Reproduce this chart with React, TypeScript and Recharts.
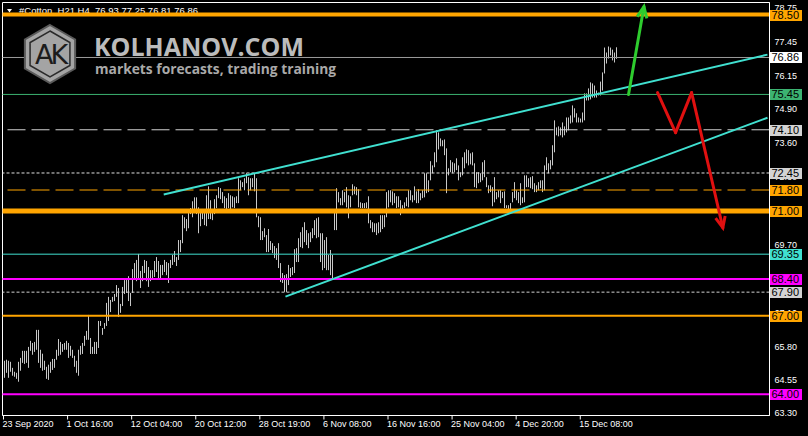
import { ComposedChart, Bar, XAxis, YAxis, ReferenceLine, ReferenceArea } from "recharts";

// H4 bars, high / low (oldest first)
const highs = [
  65.28, 65.32, 65.28, 65.24, 65.01, 64.86, 64.82, 65.24, 65.39, 65.66,
  65.66, 65.66, 65.81, 66.04, 65.96, 66.0, 66.46, 66.46, 65.7, 65.55,
  65.28, 65.05, 65.13, 65.24, 65.35, 65.35, 65.7, 66.11, 66.0, 65.92,
  65.96, 66.04, 65.96, 65.85, 65.7, 65.47, 65.28, 65.7, 65.85, 65.96,
  66.23, 66.42, 67.03, 66.15, 65.81, 66.0, 66.0, 66.8, 66.8, 66.53,
  66.72, 67.49, 67.72, 67.6, 67.72, 67.83, 68.17, 68.06, 67.45, 68.1,
  68.36, 68.4, 68.51, 67.87, 68.78, 69.01, 69.13, 69.36, 68.71, 68.9,
  69.13, 69.09, 68.86, 68.74, 68.74, 69.09, 69.24, 69.09, 68.94,
  68.94, 69.13, 69.05, 69.01, 69.13, 69.32, 69.47, 69.24, 69.89, 69.89,
  70.84, 70.76, 70.69, 70.92, 71.11, 71.37, 71.52, 71.52, 71.14, 71.03,
  71.03, 70.92, 71.6, 71.94, 71.41, 71.07, 71.45, 71.6, 71.91, 71.87,
  71.72, 71.56, 71.49, 71.68, 71.6, 71.56, 71.52, 71.56, 72.25, 72.17,
  72.1, 72.25, 72.44, 72.29, 72.25, 72.25, 72.44, 72.25, 70.8, 70.76,
  70.23, 70.34, 70.08, 70.31, 69.85, 69.77, 69.66, 69.58, 69.77, 69.01,
  68.63, 68.55, 68.59, 68.94, 68.82, 68.86, 69.54, 69.58, 69.96, 70.19,
  70.38, 70.57, 70.27, 70.15, 70.19, 70.34, 70.65,
  70.72, 70.76, 70.15, 70.15, 69.89, 70.0, 69.32, 69.51, 69.32, 70.95,
  71.87, 71.72, 71.49, 71.79, 71.72, 71.91, 71.6, 71.56, 72.02, 71.94,
  71.91, 71.83, 71.33, 71.3, 71.3, 71.33, 71.56, 70.65, 70.57, 70.53,
  70.53, 70.57, 70.84, 70.84, 70.84, 71.72, 71.79, 71.79, 71.75, 71.68,
  71.56, 71.56, 71.41, 71.22, 71.33, 71.52, 71.79, 71.79, 71.6, 71.94,
  71.75, 71.83, 71.68, 71.79, 72.44, 72.44, 72.17, 72.9, 72.74, 73.24,
  74.08, 74.0, 73.77, 73.7, 73.73, 73.39, 72.63, 72.94, 72.86, 72.82,
  73.01, 72.74, 72.48, 73.05, 73.24, 73.35, 73.32,
  73.2, 73.24, 72.82, 72.48, 72.48, 72.44, 72.86, 72.94, 72.29, 71.98,
  71.98, 71.91, 72.29, 71.72, 71.79, 71.79, 71.72, 71.75, 71.22, 71.22,
  71.3, 71.72, 72.1, 71.79, 71.72, 72.06, 71.52, 72.36, 72.36, 72.25,
  72.29, 72.33, 72.06, 71.98, 72.1, 72.17, 72.17, 72.74, 73.05, 72.82,
  72.94, 73.51, 74.46, 74.19, 74.23, 74.19, 74.38, 74.23, 74.57, 74.57,
  74.65, 75.03, 74.92, 74.73, 74.57, 74.53, 74.76, 75.49, 75.49, 75.68,
  75.91, 75.87, 75.79, 75.6, 75.52, 75.94, 76.29, 77.24, 77.05, 77.28,
  77.24, 77.16, 77.05, 77.25,
];

const lows = [
  64.63, 64.82, 64.63, 64.86, 64.71, 64.67, 64.59, 64.48, 64.9, 65.2,
  65.16, 65.2, 65.01, 65.66, 65.51, 65.62, 65.7, 65.2, 65.01, 64.9,
  64.93, 64.59, 64.55, 64.82, 64.93, 65.01, 65.32, 65.47, 65.51, 65.62,
  65.7, 65.7, 65.39, 65.47, 65.39, 65.05, 64.82, 64.71, 65.51, 65.54,
  65.85, 66.08, 66.08, 65.54, 65.54, 65.54, 65.54, 65.77, 66.61, 66.27,
  66.5, 66.61, 66.8, 67.14, 67.53, 67.56, 67.72, 66.95, 67.11, 67.37,
  67.83, 67.87, 67.56, 67.37, 67.87, 68.4, 68.32, 68.4, 68.06, 68.32,
  68.63, 68.32, 68.1, 68.32, 68.4, 68.48, 68.67, 68.44, 68.44,
  68.55, 68.67, 68.55, 68.25, 68.82, 68.94, 69.05, 68.9, 69.13, 69.43,
  69.77, 70.34, 70.23, 70.34, 70.88, 70.76, 70.92, 70.88, 70.15, 70.42,
  70.69, 70.46, 70.42, 70.69, 70.69, 70.65, 70.88, 71.11, 71.49, 71.45,
  71.3, 71.11, 71.03, 71.11, 71.03, 71.14, 71.11, 71.3, 71.3, 71.79,
  71.91, 71.79, 72.06, 71.6, 71.79, 71.91, 71.75, 70.76, 70.38, 69.89,
  69.89, 70.0, 69.43, 69.43, 69.51, 69.39, 69.2, 69.13, 68.82, 68.29,
  68.25, 67.91, 67.91, 68.17, 68.48, 68.55, 68.63, 69.05, 69.05, 69.62,
  69.58, 69.81, 69.7, 69.58, 69.81, 69.96, 70.08,
  69.96, 70.0, 69.05, 68.74, 68.82, 68.74, 68.74, 68.55, 68.44, 70.27,
  70.27, 71.33, 71.22, 71.22, 71.33, 71.14, 70.72, 71.14, 71.6, 71.64,
  71.6, 71.14, 71.11, 71.11, 71.11, 71.11, 70.53, 70.34, 70.19, 70.19,
  70.08, 70.15, 70.19, 70.31, 70.38, 70.76, 71.14, 71.33, 71.22, 71.3,
  71.11, 71.14, 70.84, 71.07, 71.11, 71.18, 71.14, 71.41, 71.33, 71.41,
  71.3, 71.3, 71.41, 71.49, 71.52, 71.68, 71.72, 72.17, 72.44, 72.67,
  72.86, 73.35, 73.47, 73.47, 73.13, 71.68, 72.36, 72.48, 72.44, 72.48,
  72.56, 72.17, 72.29, 72.36, 72.63, 72.82, 72.74,
  72.78, 72.74, 71.91, 71.87, 72.06, 72.1, 72.17, 72.29, 71.91, 71.68,
  71.72, 71.18, 71.33, 71.45, 71.52, 71.3, 71.49, 71.11, 71.11, 70.95,
  71.03, 71.33, 71.49, 71.41, 71.3, 71.22, 71.3, 71.33, 71.91, 71.91,
  71.87, 71.83, 71.72, 71.72, 71.79, 71.87, 71.72, 71.79, 72.56, 72.44,
  72.59, 72.74, 73.24, 73.89, 73.85, 73.89, 73.81, 73.89, 74.0, 74.08,
  74.34, 74.38, 74.57, 74.38, 74.38, 74.38, 74.38, 74.46, 75.22, 75.22,
  75.26, 75.33, 75.33, 75.33, 75.41, 75.41, 75.6, 76.25, 76.63, 76.82,
  76.94, 76.75, 76.67, 76.81,
];

const xTickIndex = [0, 32, 64, 96, 128, 160, 192, 224, 256, 288];
const xTickLabels = [
  "23 Sep 2020", "1 Oct 16:00", "12 Oct 04:00", "20 Oct 12:00", "28 Oct 19:00",
  "6 Nov 08:00", "16 Nov 16:00", "25 Nov 04:00", "4 Dec 20:00", "15 Dec 08:00",
];
const yTicks = [78.75, 77.45, 76.15, 74.9, 73.6, 72.3, 71.0, 69.7, 68.4, 67.1, 65.8, 64.55, 63.3];

// horizontal levels and their look
const levelPrices = [78.5, 76.86, 75.45, 74.1, 72.45, 71.8, 71.0, 69.35, 68.4, 67.9, 67.0, 64.0];
const levelStyles = [
  { color: "#FFA500", width: 4, dash: undefined, tag: "#FFA500" },
  { color: "#9a9a9a", width: 1, dash: undefined, tag: "#FFFFFF" },
  { color: "#3CB371", width: 1, dash: undefined, tag: "#3CB371" },
  { color: "#d3d3d3", width: 1, dash: "18 6", tag: "#d3d3d3" },
  { color: "#e0e0e0", width: 1, dash: "3 2", tag: "#d3d3d3" },
  { color: "#FFA500", width: 1, dash: "18 6", tag: "#FFA500" },
  { color: "#FFA500", width: 5, dash: undefined, tag: "#FFA500" },
  { color: "#40E0D0", width: 1, dash: undefined, tag: "#40E0D0" },
  { color: "#FF00FF", width: 2, dash: undefined, tag: "#FF00FF" },
  { color: "#d3d3d3", width: 1, dash: "3 2", tag: "#d3d3d3" },
  { color: "#FFA500", width: 2, dash: undefined, tag: "#FFA500" },
  { color: "#FF00FF", width: 2, dash: undefined, tag: "#FF00FF" },
];

// channel lines (bar index, price)
const upperChannel = [{ x: 80, y: 71.63 }, { x: 381.5, y: 76.97 }];
const lowerChannel = [{ x: 140.8, y: 67.73 }, { x: 381.5, y: 74.56 }];

// forecast arrows
const greenArrow = [{ x: 312.1, y: 75.45 }, { x: 319.8, y: 78.8 }];
const redArrow = [
  { x: 326.6, y: 75.52 },
  { x: 335.6, y: 73.99 },
  { x: 343.6, y: 75.52 },
  { x: 359.2, y: 70.36 },
];

const W = 808;
const H = 436;
const FONT = '"Liberation Sans", Arial, sans-serif';
const Y_DOMAIN: [number, number] = [63.19, 78.96];
const X_DOMAIN: [number, number] = [-0.5, 382.5];

const data = highs.map((h, i) => ({ i, range: [lows[i], h] }));

const BarShape = (p: any) => {
  if (p.y == null || p.height == null) return <g />;
  const cx = Math.floor(p.x + p.width / 2);
  const top = Math.min(p.y, p.y + p.height);
  const h = Math.max(Math.abs(p.height), 1);
  return <rect x={cx} y={top} width={1} height={h} fill="#c8c8c8" />;
};

const XTick = (p: any) => {
  const idx = xTickIndex.indexOf(p.payload.value);
  return (
    <text x={p.x - 1} y={p.y} dy="0.71em" textAnchor="start" fill="#fff" fontSize={9} fontFamily={FONT}>
      {xTickLabels[idx]}
    </text>
  );
};

// y tick text, drawn as a reference-line label so the price tags can sit on top
const tickText = (text: string) => (p: any) => {
  const vb = p.viewBox;
  return (
    <text x={vb.x + vb.width + 5} y={vb.y + 3.2} fontSize={9} fill="#fff" fontFamily={FONT}>
      {text}
    </text>
  );
};

const priceTag = (text: string, bg: string) => (p: any) => {
  const vb = p.viewBox;
  const right = vb.x + vb.width;
  const cy = Math.round(vb.y);
  return (
    <g>
      <rect x={right + 0.5} y={cy - 5} width={32} height={11} fill={bg} />
      <text x={right + 2} y={cy + 4} fontSize={11} fill="#000" fontFamily={FONT}>
        {text}
      </text>
    </g>
  );
};

const arrowShape = (color: string, head: boolean) => (p: any) => {
  const { x1, y1, x2, y2 } = p;
  const ang = Math.atan2(y2 - y1, x2 - x1);
  const L = 12;
  const a = 0.42;
  const hx1 = x2 - L * Math.cos(ang - a);
  const hy1 = y2 - L * Math.sin(ang - a);
  const hx2 = x2 - L * Math.cos(ang + a);
  const hy2 = y2 - L * Math.sin(ang + a);
  return (
    <g>
      <line x1={x1} y1={y1} x2={x2} y2={y2} stroke={color} strokeWidth={3} strokeLinecap="round" />
      {head && (
        <polyline
          points={`${hx1},${hy1} ${x2},${y2} ${hx2},${hy2}`}
          fill="none"
          stroke={color}
          strokeWidth={3}
          strokeLinejoin="miter"
        />
      )}
    </g>
  );
};

function Watermark() {
  const hex = (cx: number, cy: number, r: number) =>
    [0, 1, 2, 3, 4, 5]
      .map((k) => {
        const t = (Math.PI / 3) * k - Math.PI / 2;
        return `${cx + r * Math.cos(t)},${cy + r * Math.sin(t)}`;
      })
      .join(" ");
  return (
    <svg width={W} height={H} style={{ position: "absolute", left: 0, top: 0, pointerEvents: "none" }}>
      <polygon points={hex(50, 54, 29)} fill="#a4a4a4" stroke="#5a5a5a" strokeWidth={2} />
      <polygon points={hex(50, 54, 23)} fill="none" stroke="#2a2a2a" strokeWidth={1.5} />
      <text x={50} y={64} textAnchor="middle" fontSize={27} fill="#1c1c1c" fontFamily='"DejaVu Sans", sans-serif' letterSpacing={-3}>
        AK
      </text>
      <text x={94} y={56} fontSize={25} fontWeight={700} fill="#bcbcbc" fontFamily='"Open Sans", sans-serif'>
        KOLHANOV.COM
      </text>
      <text x={95} y={74} fontSize={13.8} fontWeight={700} fill="#a9a9a9" fontFamily='"Open Sans", sans-serif'>
        markets forecasts, trading training
      </text>
    </svg>
  );
}

function Title() {
  return (
    <svg width={W} height={20} style={{ position: "absolute", left: 0, top: 0 }}>
      <polygon points="7,9 12,9 9.5,12.5" fill="#fff" />
      <text x={19} y={14} fontSize={9.5} fill="#fff" fontFamily={FONT} style={{ whiteSpace: "pre" }}>
        #Cotton_H21,H4  76.93 77.25 76.81 76.86
      </text>
    </svg>
  );
}

export default function App() {
  return (
    <div style={{ position: "fixed", left: 0, top: 0, width: W, height: H, background: "#000", overflow: "hidden" }}>
      <Title />
      <div style={{ position: "absolute", left: 0, top: 0 }}>
        <ComposedChart width={W} height={H} data={data} margin={{ top: 2.5, left: 2.5, right: 0, bottom: 0 }}>
          <XAxis
            type="number"
            dataKey="i"
            domain={X_DOMAIN}
            ticks={xTickIndex}
            interval={0}
            allowDataOverflow
            height={20.5}
            axisLine={{ stroke: "#fff" }}
            tickLine={{ stroke: "#fff" }}
            tickSize={4}
            tickMargin={1}
            tick={<XTick />}
          />
          <YAxis
            orientation="right"
            type="number"
            domain={Y_DOMAIN}
            ticks={yTicks}
            interval={0}
            allowDataOverflow
            width={38.5}
            axisLine={{ stroke: "#fff" }}
            tickLine={{ stroke: "#fff" }}
            tickSize={4}
            tick={false}
          />
          <ReferenceArea
            x1={X_DOMAIN[0]}
            x2={X_DOMAIN[1]}
            y1={Y_DOMAIN[0]}
            y2={Y_DOMAIN[1]}
            fill="none"
            fillOpacity={0}
            stroke="#fff"
            strokeWidth={1}
          />
          <Bar dataKey="range" barSize={1} shape={BarShape} isAnimationActive={false} />
          {yTicks.map((t) => (
            <ReferenceLine key={`tick-${t}`} y={t} stroke="none" label={tickText(t.toFixed(2))} />
          ))}
          {levelPrices.map((p, k) => (
            <ReferenceLine
              key={`lvl-${p}`}
              y={p}
              stroke={levelStyles[k].color}
              strokeWidth={levelStyles[k].width}
              strokeDasharray={levelStyles[k].dash}
              label={priceTag(p.toFixed(2), levelStyles[k].tag)}
            />
          ))}
          <ReferenceLine segment={upperChannel} stroke="#40E0D0" strokeWidth={2} />
          <ReferenceLine segment={lowerChannel} stroke="#40E0D0" strokeWidth={2} />
          <ReferenceLine segment={greenArrow} shape={arrowShape("#2ecc2e", true)} />
          {redArrow.slice(1).map((pt, k) => (
            <ReferenceLine
              key={`red-${k}`}
              segment={[redArrow[k], pt]}
              shape={arrowShape("#e01010", k === redArrow.length - 2)}
            />
          ))}
        </ComposedChart>
      </div>
      <Watermark />
    </div>
  );
}
